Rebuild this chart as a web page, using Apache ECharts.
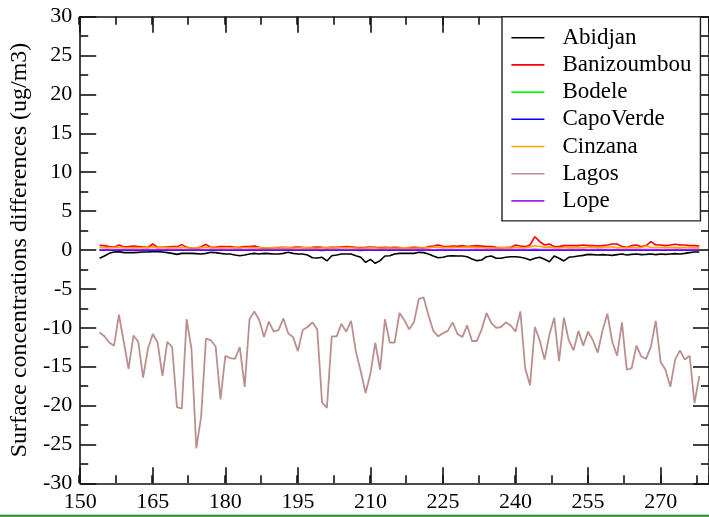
<!DOCTYPE html>
<html>
<head>
<meta charset="utf-8">
<script src="https://cdn.jsdelivr.net/npm/echarts@6/dist/echarts.min.js"></script>
<style>
html,body{margin:0;padding:0;background:#fff;}
#chart{width:709px;height:517px;}
</style>
</head>
<body>
<div id="chart"></div>
<script>
// ---- data (day of year from startDay, one value per day) ----
const startDay = 154;
const seriesNames = ['Abidjan','Banizoumbou','Bodele','CapoVerde','Cinzana','Lagos','Lope'];
const seriesColors = ['#000000','#ff0000','#00ff00','#0000ff','#ffa500','#bc8f8f','#a020f0'];
const xTicks = [150,165,180,195,210,225,240,255,270];
const yTicks = [-30,-25,-20,-15,-10,-5,0,5,10,15,20,25,30];

const abidjan = [
-1.07,-0.77,-0.43,-0.26,-0.21,-0.34,-0.34,-0.34,-0.30,-0.26,
-0.26,-0.21,-0.21,-0.26,-0.34,-0.43,-0.56,-0.43,-0.43,-0.43,
-0.47,-0.51,-0.43,-0.30,-0.34,-0.43,-0.51,-0.51,-0.64,-0.73,
-0.64,-0.51,-0.43,-0.51,-0.43,-0.47,-0.51,-0.51,-0.43,-0.30,
-0.43,-0.51,-0.51,-0.64,-0.99,-1.03,-0.94,-1.41,-0.73,-0.64,
-0.51,-0.51,-0.51,-0.73,-0.94,-1.59,-1.20,-1.71,-1.37,-0.77,
-0.73,-0.51,-0.43,-0.43,-0.43,-0.43,-0.30,-0.34,-0.51,-0.77,
-0.99,-0.94,-0.77,-0.73,-0.77,-0.77,-0.86,-1.16,-1.37,-1.29,
-0.86,-0.77,-1.07,-1.07,-0.94,-0.86,-0.86,-0.94,-1.07,-1.29,
-1.07,-0.94,-1.20,-1.50,-0.77,-1.07,-1.41,-0.94,-0.86,-0.77,
-0.69,-0.56,-0.60,-0.64,-0.60,-0.64,-0.69,-0.60,-0.51,-0.64,
-0.56,-0.51,-0.60,-0.56,-0.51,-0.60,-0.51,-0.56,-0.51,-0.47,
-0.51,-0.43,-0.34,-0.26,-0.26];

const banizoumbou = [
0.60,0.56,0.43,0.34,0.64,0.39,0.43,0.51,0.43,0.39,
0.34,0.77,0.34,0.34,0.39,0.43,0.43,0.69,0.34,0.26,
0.21,0.43,0.73,0.34,0.34,0.43,0.43,0.43,0.34,0.34,
0.43,0.43,0.51,0.34,0.21,0.21,0.30,0.30,0.34,0.30,
0.34,0.39,0.34,0.30,0.34,0.39,0.34,0.30,0.34,0.34,
0.39,0.43,0.39,0.34,0.30,0.34,0.39,0.34,0.30,0.34,
0.30,0.34,0.30,0.26,0.30,0.34,0.30,0.26,0.43,0.51,
0.64,0.47,0.43,0.51,0.47,0.56,0.43,0.51,0.56,0.51,
0.43,0.43,0.34,0.30,0.30,0.34,0.64,0.51,0.43,0.64,
1.71,1.07,0.64,0.77,0.43,0.43,0.56,0.56,0.56,0.56,
0.64,0.56,0.56,0.51,0.56,0.64,0.77,0.77,0.43,0.34,
0.56,0.64,0.43,0.56,1.07,0.64,0.64,0.56,0.64,0.73,
0.64,0.64,0.56,0.56,0.51];

const bodele = [
0.01,0.01,0.00,0.00,0.01,0.00,0.00,0.01,0.00,0.00,
0.00,0.01,0.00,0.00,0.00,0.01,0.00,0.01,0.00,0.00,
0.00,0.00,0.01,0.00,0.00,0.00,0.01,0.00,0.00,0.00,
0.00,0.01,0.00,0.00,0.00,0.00,0.01,0.00,0.00,0.00,
0.00,0.00,0.01,0.00,0.00,0.00,0.00,0.01,0.00,0.00,
0.00,0.00,0.00,0.01,0.00,0.00,0.00,0.00,0.01,0.00,
0.00,0.00,0.00,0.00,0.01,0.00,0.00,0.00,0.00,0.01,
0.00,0.00,0.00,0.01,0.00,0.00,0.00,0.01,0.00,0.00,
0.00,0.01,0.00,0.00,0.00,0.01,0.00,0.00,0.01,0.00,
0.02,0.01,0.00,0.00,0.01,0.00,0.00,0.00,0.01,0.00,
0.00,0.01,0.00,0.00,0.00,0.01,0.00,0.00,0.00,0.01,
0.00,0.00,0.01,0.00,0.00,0.00,0.01,0.00,0.00,0.00,
0.01,0.00,0.00,0.00,0.00];

const capoVerde = [
-0.02,-0.03,-0.02,-0.03,-0.02,-0.04,-0.03,-0.02,-0.03,-0.04,
-0.03,-0.02,-0.03,-0.03,-0.04,-0.03,-0.02,-0.03,-0.04,-0.03,
-0.03,-0.02,-0.03,-0.04,-0.03,-0.03,-0.02,-0.03,-0.04,-0.03,
-0.02,-0.03,-0.03,-0.04,-0.03,-0.02,-0.03,-0.03,-0.04,-0.03,
-0.03,-0.04,-0.03,-0.02,-0.03,-0.04,-0.05,-0.04,-0.03,-0.03,
-0.04,-0.03,-0.03,-0.04,-0.05,-0.04,-0.03,-0.04,-0.03,-0.03,
-0.04,-0.03,-0.03,-0.02,-0.03,-0.04,-0.03,-0.03,-0.04,-0.03,
-0.03,-0.04,-0.03,-0.03,-0.02,-0.03,-0.03,-0.04,-0.03,-0.03,
-0.03,-0.02,-0.03,-0.03,-0.04,-0.03,-0.03,-0.02,-0.03,-0.03,
-0.02,-0.03,-0.03,-0.04,-0.03,-0.03,-0.02,-0.03,-0.03,-0.04,
-0.03,-0.03,-0.02,-0.03,-0.03,-0.04,-0.03,-0.02,-0.03,-0.03,
-0.04,-0.03,-0.03,-0.02,-0.03,-0.03,-0.04,-0.03,-0.02,-0.03,
-0.03,-0.02,-0.03,-0.02,-0.02];

const cinzana = [
0.35,0.32,0.30,0.28,0.35,0.30,0.28,0.30,0.27,0.28,
0.30,0.40,0.30,0.28,0.27,0.30,0.30,0.35,0.27,0.25,
0.22,0.30,0.38,0.28,0.25,0.27,0.30,0.28,0.27,0.25,
0.28,0.30,0.28,0.27,0.25,0.25,0.27,0.25,0.28,0.27,
0.25,0.25,0.27,0.28,0.25,0.22,0.25,0.28,0.25,0.27,
0.28,0.30,0.27,0.25,0.22,0.25,0.27,0.25,0.22,0.25,
0.25,0.22,0.25,0.27,0.25,0.22,0.25,0.25,0.30,0.35,
0.38,0.30,0.32,0.35,0.33,0.35,0.38,0.35,0.30,0.28,
0.27,0.25,0.25,0.27,0.28,0.25,0.35,0.30,0.28,0.40,
0.55,0.45,0.35,0.40,0.30,0.28,0.30,0.32,0.30,0.28,
0.30,0.32,0.35,0.30,0.32,0.38,0.42,0.30,0.25,0.30,
0.35,0.30,0.32,0.50,0.35,0.32,0.30,0.32,0.35,0.30,
0.32,0.30,0.32,0.30,0.28];

const lagos = [
-10.6,-11.1,-11.9,-12.3,-8.3,-11.8,-15.3,-11.0,-11.8,-16.4,
-12.7,-10.8,-11.9,-16.2,-11.8,-12.5,-20.2,-20.4,-8.9,-12.7,
-25.5,-21.4,-11.4,-11.6,-12.4,-19.2,-13.6,-13.9,-14.0,-12.5,
-17.6,-8.9,-7.9,-9.0,-11.2,-9.2,-10.5,-10.3,-8.8,-10.7,
-11.2,-13.0,-10.3,-9.9,-9.3,-10.2,-19.6,-20.3,-11.1,-11.1,
-9.5,-10.5,-9.1,-13.1,-15.6,-18.4,-15.9,-11.9,-15.4,-8.9,
-11.9,-11.9,-8.1,-9.0,-10.2,-9.3,-6.3,-6.1,-8.4,-10.4,
-11.1,-10.7,-10.4,-9.3,-10.8,-11.2,-9.7,-11.7,-11.7,-10.2,
-8.1,-9.4,-10.0,-9.9,-9.3,-9.7,-10.5,-7.9,-15.2,-17.4,
-9.9,-11.6,-14.1,-10.9,-8.7,-14.3,-8.7,-11.6,-12.9,-10.4,
-12.3,-10.5,-11.6,-13.2,-10.3,-8.2,-11.8,-13.6,-9.3,-15.4,
-15.2,-12.3,-13.7,-14.0,-12.4,-9.1,-14.4,-15.4,-17.6,-14.1,
-12.9,-14.1,-13.6,-19.7,-16.2];

const lope = [
0.05,0.06,0.05,0.04,0.05,0.06,0.05,0.05,0.04,0.05,
0.06,0.05,0.05,0.04,0.05,0.05,0.06,0.05,0.04,0.05,
0.05,0.06,0.05,0.05,0.04,0.05,0.05,0.06,0.05,0.05,
0.04,0.05,0.05,0.06,0.05,0.04,0.05,0.05,0.06,0.05,
0.05,0.04,0.05,0.06,0.05,0.05,0.04,0.05,0.05,0.06,
0.05,0.05,0.04,0.05,0.06,0.05,0.05,0.04,0.05,0.05,
0.06,0.05,0.05,0.04,0.05,0.05,0.06,0.05,0.05,0.04,
0.05,0.06,0.05,0.05,0.04,0.05,0.06,0.05,0.05,0.04,
0.05,0.05,0.06,0.05,0.04,0.05,0.06,0.05,0.05,0.06,
0.08,0.07,0.05,0.06,0.05,0.05,0.04,0.05,0.06,0.05,
0.05,0.04,0.05,0.06,0.05,0.05,0.06,0.05,0.04,0.05,
0.05,0.06,0.05,0.07,0.05,0.05,0.04,0.05,0.06,0.05,
0.05,0.04,0.05,0.05,0.05];

const allValues = [abidjan, banizoumbou, bodele, capoVerde, cinzana, lagos, lope];

// ---- build chart ----
const FONT = "'Liberation Serif', 'DejaVu Serif', serif";
function toPairs(arr){ return arr.map((v,i)=>[startDay+i, v]); }

const xMin = xTicks[0], xMax = 280, xStep = xTicks[1]-xTicks[0];
const yMin = yTicks[0], yMax = yTicks[yTicks.length-1], yStep = yTicks[1]-yTicks[0];
const gridPos = {left:79, top:16.7, right:-5.6, bottom:33.7};
const lineStyleAxis = {color:'#111', width:1.6};

const chart = echarts.init(document.getElementById('chart'), null, {renderer:'canvas'});
chart.setOption({
  animation:false,
  backgroundColor:'#ffffff',
  grid:[Object.assign({}, gridPos), Object.assign({}, gridPos)],
  xAxis:[
    {type:'value', gridIndex:0, position:'bottom', min:xMin, max:xMax, interval:xStep,
     axisLine:{show:true, onZero:false, lineStyle:lineStyleAxis},
     axisTick:{show:true, inside:true, length:16, lineStyle:lineStyleAxis},
     axisLabel:{show:true, color:'#000', fontFamily:FONT, fontSize:22, margin:8, showMaxLabel:false,
       formatter:(v)=> xTicks.indexOf(v)>=0 ? String(v) : ''},
     splitLine:{show:false}},
    {type:'value', gridIndex:0, position:'top', min:xMin, max:xMax, interval:xStep,
     axisLine:{show:true, onZero:false, lineStyle:lineStyleAxis},
     axisTick:{show:true, inside:true, length:16, lineStyle:lineStyleAxis},
     axisLabel:{show:false}, splitLine:{show:false}},
    {type:'value', gridIndex:1, position:'bottom', min:xMin, max:xMax, interval:xStep/2,
     axisLine:{show:false, onZero:false},
     axisTick:{show:true, inside:true, length:8, lineStyle:lineStyleAxis},
     axisLabel:{show:false}, splitLine:{show:false}},
    {type:'value', gridIndex:1, position:'top', min:xMin, max:xMax, interval:xStep/2,
     axisLine:{show:false, onZero:false},
     axisTick:{show:true, inside:true, length:8, lineStyle:lineStyleAxis},
     axisLabel:{show:false}, splitLine:{show:false}}
  ],
  yAxis:[
    {type:'value', gridIndex:0, position:'left', min:yMin, max:yMax, interval:yStep,
     name:'Surface concentrations differences (ug/m3)', nameLocation:'middle', nameGap:48,
     nameTextStyle:{color:'#000', fontFamily:FONT, fontSize:24},
     axisLine:{show:true, onZero:false, lineStyle:lineStyleAxis},
     axisTick:{show:true, inside:true, length:16, lineStyle:lineStyleAxis},
     minorTick:{show:true, splitNumber:2, length:8, lineStyle:lineStyleAxis},
     axisLabel:{show:true, color:'#000', fontFamily:FONT, fontSize:22, margin:8},
     splitLine:{show:false}, minorSplitLine:{show:false}},
    {type:'value', gridIndex:0, position:'right', min:yMin, max:yMax, interval:yStep,
     axisLine:{show:true, onZero:false, lineStyle:lineStyleAxis},
     axisTick:{show:true, inside:true, length:16, lineStyle:lineStyleAxis},
     minorTick:{show:true, splitNumber:2, length:8, lineStyle:lineStyleAxis},
     axisLabel:{show:false}, splitLine:{show:false}, minorSplitLine:{show:false}},
    {type:'value', gridIndex:1, min:yMin, max:yMax, show:false}
  ],
  legend:{
    orient:'vertical', left:502, top:16.7,
    padding:[9.5, 9, 8.5, 9.4],
    itemGap:4.2, itemWidth:33, itemHeight:1.6, icon:'rect',
    borderColor:'#222', borderWidth:1.4, backgroundColor:'#ffffff',
    textStyle:{color:'#000', fontFamily:FONT, fontSize:23, lineHeight:22, padding:[0,0,0,13]},
    data:seriesNames
  },
  graphic:[{type:'line', shape:{x1:0, y1:515.7, x2:709, y2:515.7}, style:{stroke:'#1f8a24', lineWidth:2}, silent:true}],
  series: seriesNames.map((name, i)=>({
    name:name, type:'line', xAxisIndex:0, yAxisIndex:0,
    data:toPairs(allValues[i]), showSymbol:false, symbol:'none',
    lineStyle:{color:seriesColors[i], width: name==='Lagos' ? 1.8 : 1.6},
    itemStyle:{color:seriesColors[i]},
    z: 2
  }))
});
</script>
</body>
</html>
